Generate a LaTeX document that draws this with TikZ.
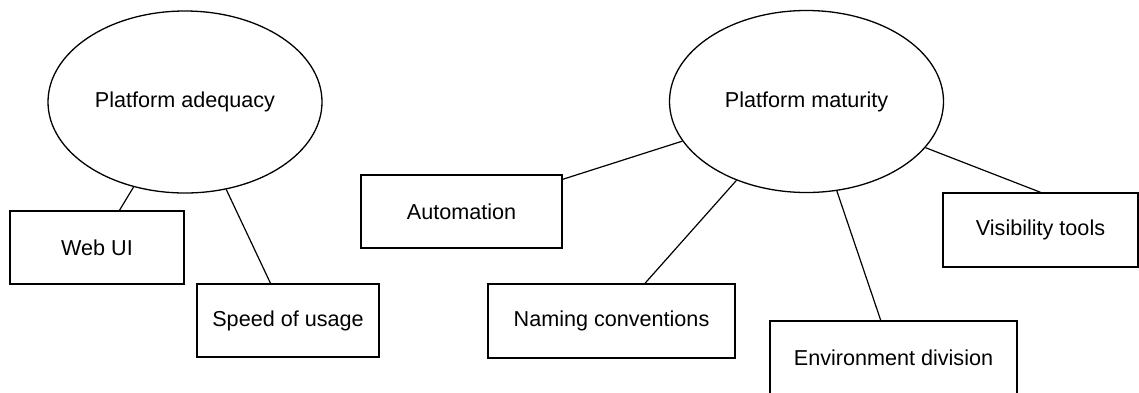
\documentclass[tikz,border=0pt]{standalone}
\usepackage{fontspec}
\setmainfont{Liberation Sans}
\usepackage{tikz}
\usetikzlibrary{shapes.geometric}

\begin{document}
\begin{tikzpicture}[x=0.5pt,y=-0.5pt,
    topic/.style={draw,ellipse,line width=0.65pt,inner sep=0pt,
        minimum width=137pt,minimum height=91pt,font=\fontsize{10.8}{13}\selectfont},
    aspect/.style={draw,rectangle,line width=0.7pt,inner sep=0pt,
        minimum height=36.5pt,font=\fontsize{10.8}{13}\selectfont},
    link/.style={line width=0.6pt}]
    % Fix the page size
    \useasboundingbox (0,0) rectangle (1139,392);

    % Draw the two topics
    \node[topic] (adequacy) at (185,102) {Platform adequacy};
    \node[topic] (maturity) at (806.5,101.5) {Platform maturity};

    % Draw the boxes
    \node[aspect,minimum width=87pt] (webui) at (97,247.5) {Web UI};
    \node[aspect,minimum width=91pt] (speed) at (288,320.5) {Speed of usage};
    \node[aspect,minimum width=100.5pt] (automation) at (461.5,211.5) {Automation};
    \node[aspect,minimum width=123.5pt,minimum height=37pt] (naming) at (611.5,321) {Naming conventions};
    \node[aspect,minimum width=123.5pt,minimum height=37pt] (envdiv) at (893.5,358) {Environment division};
    \node[aspect,minimum width=97.5pt,minimum height=37pt] (visibility) at (1040.5,230) {Visibility tools};

    % Draw the links
    \draw[link] (adequacy) -- (webui);
    \draw[link] (adequacy) -- (speed);
    \draw[link] (maturity) -- (automation);
    \draw[link] (maturity) -- (naming);
    \draw[link] (maturity) -- (envdiv);
    \draw[link] (maturity) -- (visibility.north);
\end{tikzpicture}
\end{document}
